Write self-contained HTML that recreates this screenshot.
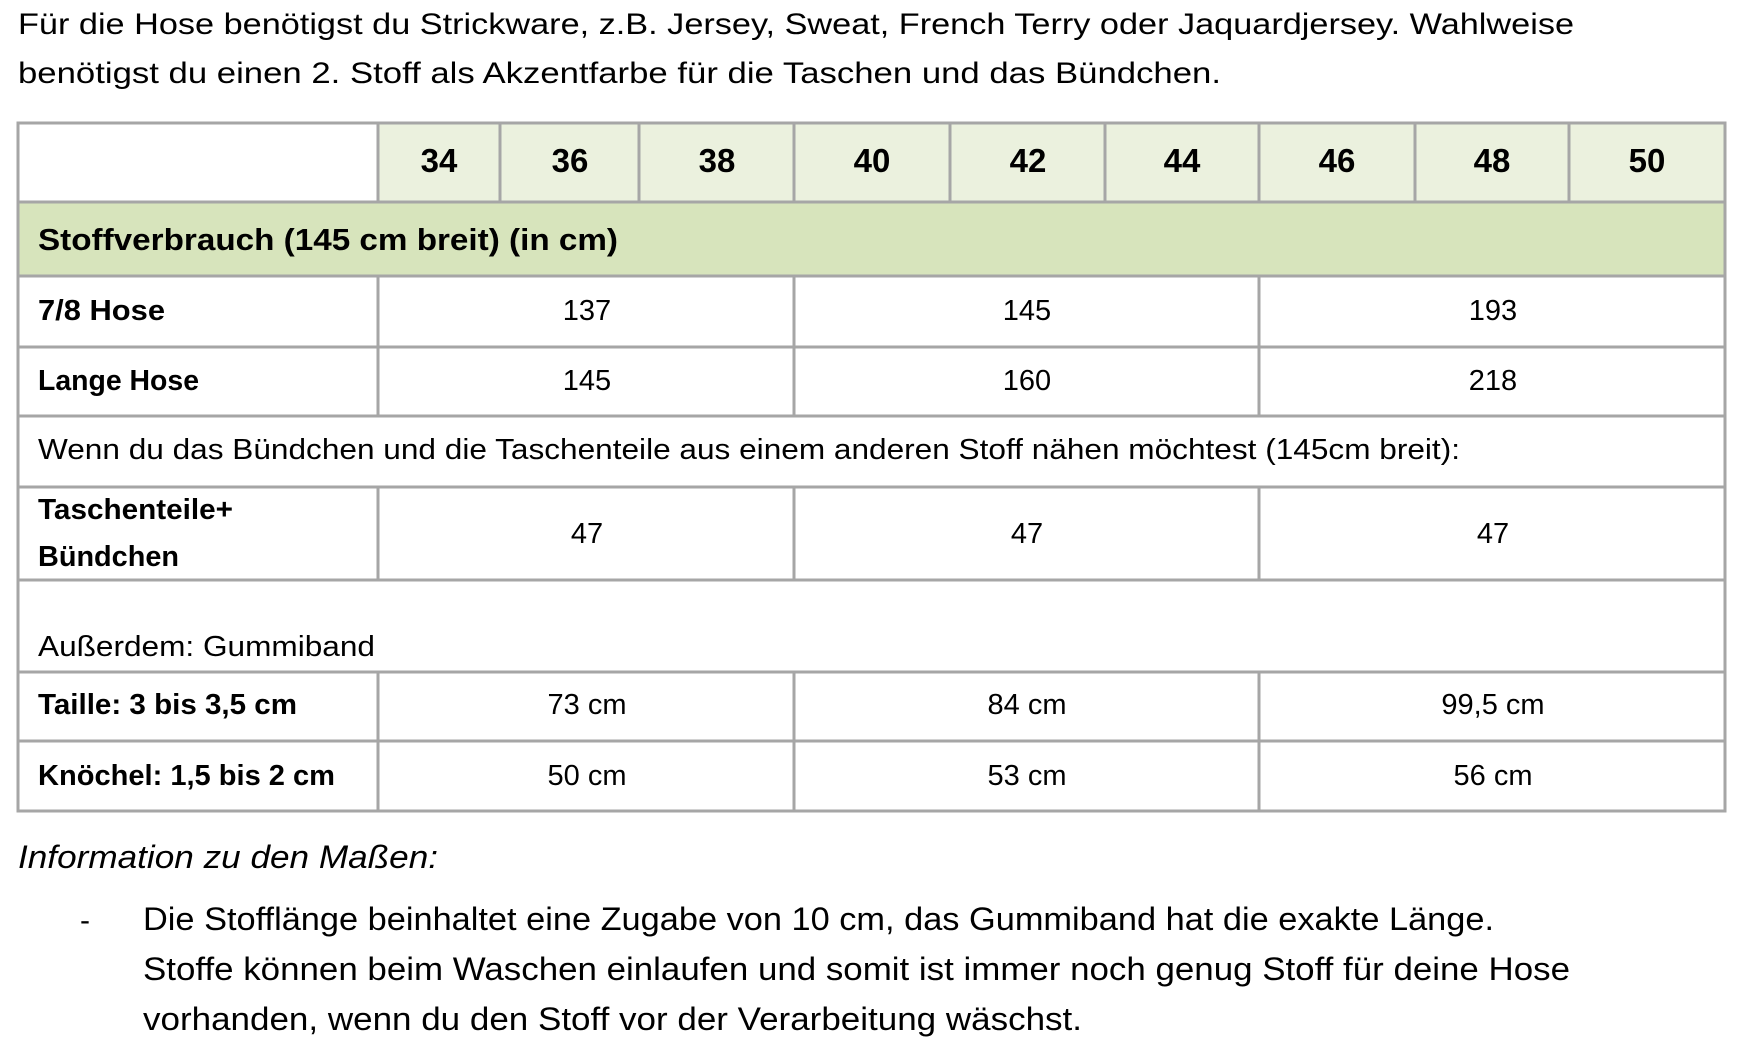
<!DOCTYPE html>
<html><head><meta charset="utf-8"><style>
html,body{margin:0;padding:0;background:#fff;}
svg{display:block}
text{font-family:"Liberation Sans",sans-serif;fill:#000}
.b{font-weight:bold}
</style></head><body>
<svg width="1742" height="1062" viewBox="0 0 1742 1062" xmlns="http://www.w3.org/2000/svg">
<text x="18" y="34" font-size="30" textLength="1556" lengthAdjust="spacingAndGlyphs">Für die Hose benötigst du Strickware, z.B. Jersey, Sweat, French Terry oder Jaquardjersey. Wahlweise</text>
<text x="18" y="83" font-size="30" textLength="1203" lengthAdjust="spacingAndGlyphs">benötigst du einen 2. Stoff als Akzentfarbe für die Taschen und das Bündchen.</text>

<rect x="378" y="123" width="1347" height="79" fill="#ebf1de"/>
<rect x="18" y="202" width="1707" height="74" fill="#d7e4bc"/>
<g stroke="#a6a6a6" stroke-width="3" fill="none">
<rect x="18" y="123" width="1707" height="688"/>
<line x1="18" y1="202" x2="1725" y2="202"/>
<line x1="18" y1="276" x2="1725" y2="276"/>
<line x1="18" y1="347" x2="1725" y2="347"/>
<line x1="18" y1="416" x2="1725" y2="416"/>
<line x1="18" y1="487" x2="1725" y2="487"/>
<line x1="18" y1="580" x2="1725" y2="580"/>
<line x1="18" y1="672" x2="1725" y2="672"/>
<line x1="18" y1="741" x2="1725" y2="741"/>
<line x1="378" y1="123" x2="378" y2="202"/>
<line x1="500" y1="123" x2="500" y2="202"/>
<line x1="639" y1="123" x2="639" y2="202"/>
<line x1="794" y1="123" x2="794" y2="202"/>
<line x1="950" y1="123" x2="950" y2="202"/>
<line x1="1105" y1="123" x2="1105" y2="202"/>
<line x1="1259" y1="123" x2="1259" y2="202"/>
<line x1="1415" y1="123" x2="1415" y2="202"/>
<line x1="1569" y1="123" x2="1569" y2="202"/>
<line x1="378" y1="276" x2="378" y2="416"/>
<line x1="794" y1="276" x2="794" y2="416"/>
<line x1="1259" y1="276" x2="1259" y2="416"/>
<line x1="378" y1="487" x2="378" y2="580"/>
<line x1="794" y1="487" x2="794" y2="580"/>
<line x1="1259" y1="487" x2="1259" y2="580"/>
<line x1="378" y1="672" x2="378" y2="811"/>
<line x1="794" y1="672" x2="794" y2="811"/>
<line x1="1259" y1="672" x2="1259" y2="811"/>
</g>
<g class="b" font-size="33" text-anchor="middle">
<text class="b" x="439" y="172">34</text>
<text class="b" x="570" y="172">36</text>
<text class="b" x="717" y="172">38</text>
<text class="b" x="872" y="172">40</text>
<text class="b" x="1028" y="172">42</text>
<text class="b" x="1182" y="172">44</text>
<text class="b" x="1337" y="172">46</text>
<text class="b" x="1492" y="172">48</text>
<text class="b" x="1647" y="172">50</text>
</g>
<text class="b" x="38" y="250" font-size="31" textLength="580" lengthAdjust="spacingAndGlyphs">Stoffverbrauch (145 cm breit) (in cm)</text>
<text class="b" x="38" y="320" font-size="29" textLength="127" lengthAdjust="spacingAndGlyphs">7/8 Hose</text>
<text class="b" x="38" y="390" font-size="29" textLength="161" lengthAdjust="spacingAndGlyphs">Lange Hose</text>
<text x="38" y="459" font-size="29" textLength="1422" lengthAdjust="spacingAndGlyphs">Wenn du das Bündchen und die Taschenteile aus einem anderen Stoff nähen möchtest (145cm breit):</text>
<text class="b" x="38" y="519" font-size="29" textLength="195" lengthAdjust="spacingAndGlyphs">Taschenteile+</text>
<text class="b" x="38" y="566" font-size="29" textLength="141" lengthAdjust="spacingAndGlyphs">Bündchen</text>
<text x="38" y="656" font-size="29" textLength="337" lengthAdjust="spacingAndGlyphs">Außerdem: Gummiband</text>
<text class="b" x="38" y="714" font-size="29" textLength="259" lengthAdjust="spacingAndGlyphs">Taille: 3 bis 3,5 cm</text>
<text class="b" x="38" y="785" font-size="29" textLength="297" lengthAdjust="spacingAndGlyphs">Knöchel: 1,5 bis 2 cm</text>
<g font-size="29" text-anchor="middle">
<text x="587" y="320">137</text><text x="1027" y="320">145</text><text x="1493" y="320">193</text>
<text x="587" y="390">145</text><text x="1027" y="390">160</text><text x="1493" y="390">218</text>
<text x="587" y="543">47</text><text x="1027" y="543">47</text><text x="1493" y="543">47</text>
<text x="587" y="714">73 cm</text><text x="1027" y="714">84 cm</text><text x="1493" y="714">99,5 cm</text>
<text x="587" y="785">50 cm</text><text x="1027" y="785">53 cm</text><text x="1493" y="785">56 cm</text>
</g>
<text x="18" y="868" font-size="32" font-style="italic" textLength="420" lengthAdjust="spacingAndGlyphs">Information zu den Maßen:</text>
<text x="80" y="930" font-size="30">-</text>
<text x="143" y="930" font-size="32" textLength="1351" lengthAdjust="spacingAndGlyphs">Die Stofflänge beinhaltet eine Zugabe von 10 cm, das Gummiband hat die exakte Länge.</text>
<text x="143" y="980" font-size="32" textLength="1427" lengthAdjust="spacingAndGlyphs">Stoffe können beim Waschen einlaufen und somit ist immer noch genug Stoff für deine Hose</text>
<text x="143" y="1030" font-size="32" textLength="939" lengthAdjust="spacingAndGlyphs">vorhanden, wenn du den Stoff vor der Verarbeitung wäschst.</text>
</svg>
</body></html>
